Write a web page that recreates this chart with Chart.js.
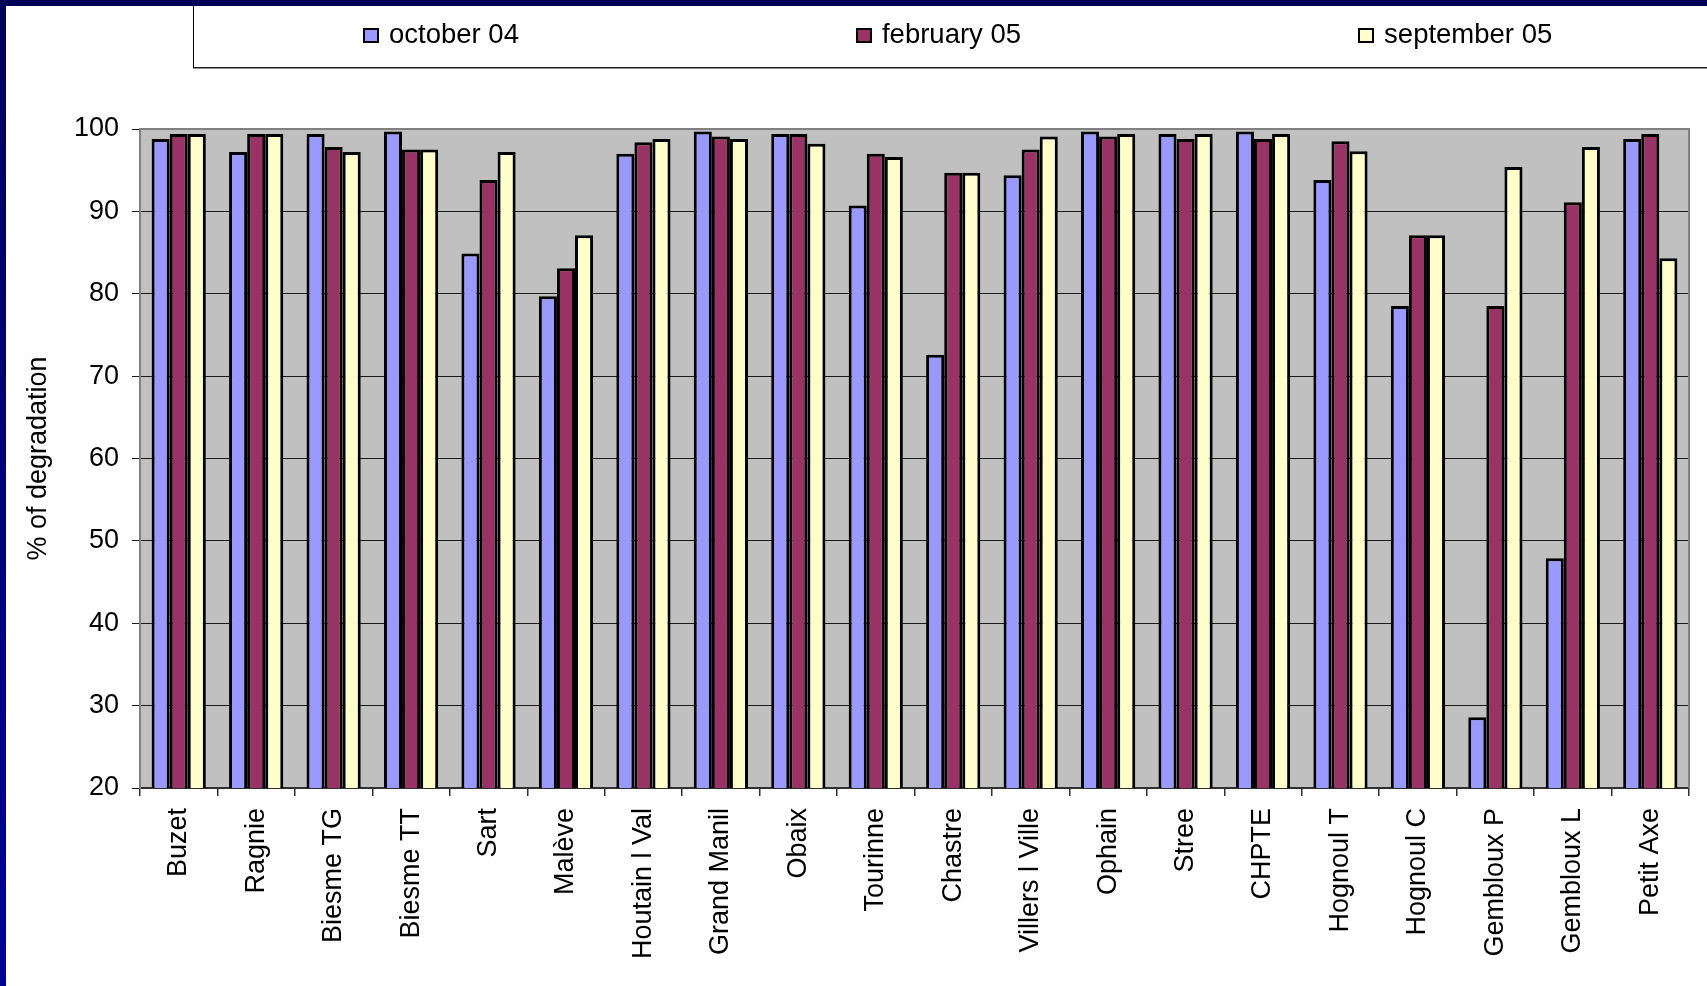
<!DOCTYPE html>
<html>
<head>
<meta charset="utf-8">
<script src="https://cdn.jsdelivr.net/npm/chart.js@4.4.1/dist/chart.umd.min.js"></script>
<style>
  html, body { margin: 0; padding: 0; background: #ffffff; overflow: hidden; }
  #wrap { position: relative; width: 1707px; height: 986px; }
  #c { position: absolute; left: 0; top: 0; }
  #navyTop { position: absolute; left: 0; top: 0; width: 1707px; height: 6px; background: #000058; }
  #navyLeft { position: absolute; left: 0; top: 0; width: 6px; height: 986px; background: linear-gradient(#000058, #000098); }
  #legendBox { position: absolute; left: 193px; top: 0; width: 1520px; height: 67px;
    border-left: 1px solid #000; border-bottom: 1px solid #202020; box-shadow: 0 1px 0 #909090; }
  #legendItems { position: absolute; left: 169px; top: 19px; height: 30px; display: flex; align-items: center; }
  .li { display: flex; align-items: center; font-family: "Liberation Sans", Arial, sans-serif; font-size: 27.5px;
    line-height: 30px; color: #000; white-space: pre; }
  .sw { width: 12px; height: 11px; border: 2.5px solid #000; margin-right: 10px; margin-top: 3px; }
</style>
</head>
<body>
<div id="wrap">
  <canvas id="c" width="1707" height="986"></canvas>
  <div id="legendBox"><div id="legendItems"></div></div>
  <div id="navyTop"></div>
  <div id="navyLeft"></div>
</div>
<script>
const categories = ["Buzet", "Ragnie", "Biesme TG", "Biesme TT", "Sart", "Malève", "Houtain l Val", "Grand Manil", "Obaix", "Tourinne", "Chastre", "Villers l Ville", "Ophain", "Stree", "CHPTE", "Hognoul T", "Hognoul C", "Gembloux P", "Gembloux L", "Petit Axe"];
const seriesNames = ["october 04", "february 05", "september 05"];
const october04   = [98.8, 97.2, 99.4, 99.7, 84.9, 79.7, 97.0, 99.7, 99.4, 90.7, 72.6, 94.4, 99.7, 99.4, 99.7, 93.8, 78.5, 28.6, 47.9, 98.8];
const february05  = [99.4, 99.4, 97.8, 97.5, 93.8, 83.1, 98.4, 99.1, 99.4, 97.0, 94.7, 97.5, 99.1, 98.8, 98.8, 98.5, 87.1, 78.5, 91.1, 99.4];
const september05 = [99.4, 99.4, 97.2, 97.5, 97.2, 87.1, 98.8, 98.8, 98.2, 96.6, 94.7, 99.1, 99.4, 99.4, 99.4, 97.3, 87.1, 95.4, 97.8, 84.3];
const yTicks = [20, 30, 40, 50, 60, 70, 80, 90, 100];
const yTitle = "% of degradation";

const colors = ["#9999FF", "#993366", "#FFFFCC"];
const FONT = "'Liberation Sans', Arial, sans-serif";

const plotFrame = {
  id: 'plotFrame',
  beforeDraw(chart) {
    const a = chart.chartArea, ctx = chart.ctx;
    ctx.save();
    ctx.fillStyle = '#C0C0C0';
    ctx.fillRect(a.left, a.top, a.right - a.left, a.bottom - a.top);
    ctx.restore();
  },
  afterDraw(chart) {
    const a = chart.chartArea, ctx = chart.ctx;
    ctx.save();
    ctx.strokeStyle = '#808080';
    ctx.lineWidth = 2;
    ctx.beginPath();
    ctx.moveTo(a.left, a.top);
    ctx.lineTo(a.right, a.top);
    ctx.lineTo(a.right, a.bottom);
    ctx.stroke();
    ctx.restore();
  }
};

const htmlLegend = {
  id: 'htmlLegend',
  afterUpdate(chart) {
    const box = document.getElementById('legendItems');
    box.innerHTML = '';
    const gaps = [0, 337, 337];
    chart.data.datasets.forEach((ds, i) => {
      const item = document.createElement('div');
      item.className = 'li';
      item.style.marginLeft = gaps[i] + 'px';
      const sw = document.createElement('span');
      sw.className = 'sw';
      sw.style.background = ds.backgroundColor;
      const tx = document.createElement('span');
      tx.textContent = ds.label;
      item.appendChild(sw);
      item.appendChild(tx);
      box.appendChild(item);
    });
  }
};

const datasets = [october04, february05, september05].map((vals, i) => ({
  label: seriesNames[i],
  data: vals,
  backgroundColor: colors[i],
  borderColor: '#000000',
  borderWidth: 3,
  borderSkipped: false,
  categoryPercentage: 0.70,
  barPercentage: 1.0
}));

new Chart(document.getElementById('c'), {
  type: 'bar',
  data: { labels: categories, datasets: datasets },
  plugins: [plotFrame, htmlLegend],
  options: {
    responsive: false,
    animation: false,
    devicePixelRatio: 1,
    layout: { padding: { top: 129, right: 18, bottom: 0, left: 0 } },
    plugins: {
      legend: { display: false },
      tooltip: { enabled: false },
      title: { display: false }
    },
    scales: {
      x: {
        grid: { drawOnChartArea: false, tickLength: 8, color: '#303030', tickColor: '#303030', lineWidth: 1.5 },
        border: { display: true, color: '#303030', width: 2 },
        ticks: { color: '#000', font: { family: FONT, size: 27 }, minRotation: 90, maxRotation: 90, padding: 12, autoSkip: false },
        afterFit(scale) { scale.height = 198; }
      },
      y: {
        min: 20, max: 100,
        afterBuildTicks(scale) { scale.ticks = yTicks.map(v => ({ value: v })); },
        grid: {
          tickLength: 8,
          lineWidth: 1,
          color: (ctx) => (ctx.tick && (ctx.tick.value === 100 || ctx.tick.value === 20)) ? '#808080' : '#1a1a1a',
          tickColor: '#1a1a1a'
        },
        border: { display: true, color: '#808080', width: 2 },
        ticks: { color: '#000', font: { family: FONT, size: 27 }, padding: 13 },
        title: { display: true, text: yTitle, color: '#000', font: { family: FONT, size: 27 }, padding: { top: 22, bottom: 0 } },
        afterFit(scale) { scale.width = 140; }
      }
    }
  }
});
</script>
</body>
</html>
